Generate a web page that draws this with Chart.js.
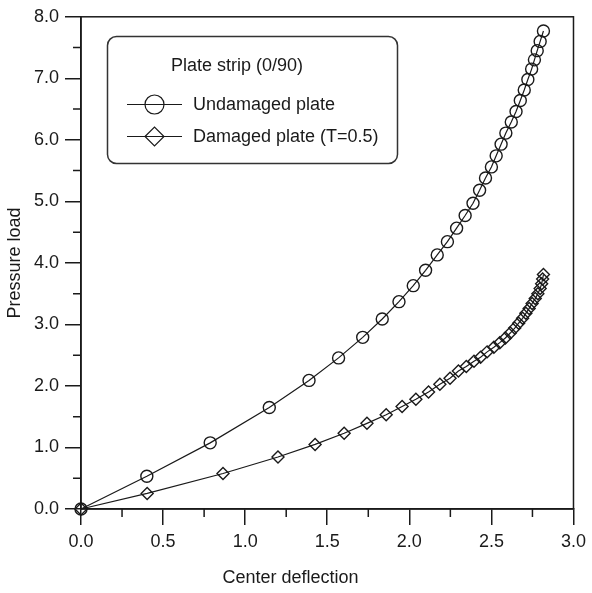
<!DOCTYPE html>
<html>
<head>
<meta charset="utf-8">
<script src="https://cdn.jsdelivr.net/npm/chart.js@4.4.1/dist/chart.umd.min.js"></script>
<style>
  html, body { margin: 0; padding: 0; background: #fff; }
  #wrap { width: 592px; height: 593px; position: relative; }
</style>
</head>
<body>
<div id="wrap"><canvas id="chart"></canvas></div>
<script>
// values
const undamagedX = [0, 0.401, 0.787, 1.147, 1.389, 1.569, 1.716, 1.835, 1.937, 2.024, 2.099, 2.170, 2.232, 2.288, 2.340, 2.388, 2.428, 2.464, 2.500, 2.529, 2.559, 2.588, 2.621, 2.650, 2.676, 2.700, 2.722, 2.745, 2.762, 2.779, 2.797, 2.817];
const undamagedY = [0, 0.532, 1.075, 1.65, 2.09, 2.456, 2.79, 3.088, 3.37, 3.63, 3.88, 4.13, 4.345, 4.565, 4.77, 4.97, 5.18, 5.38, 5.56, 5.74, 5.93, 6.11, 6.29, 6.46, 6.64, 6.81, 6.98, 7.15, 7.30, 7.45, 7.60, 7.77];

const damagedX = [0, 0.403, 0.865, 1.200, 1.426, 1.603, 1.742, 1.859, 1.956, 2.040, 2.117, 2.186, 2.248, 2.299, 2.347, 2.394, 2.434, 2.474, 2.515, 2.551, 2.585, 2.615, 2.642, 2.666, 2.690, 2.710, 2.730, 2.748, 2.767, 2.783, 2.797, 2.806, 2.812, 2.817];
const damagedY = [0, 0.253, 0.577, 0.845, 1.05, 1.231, 1.392, 1.532, 1.666, 1.785, 1.903, 2.027, 2.124, 2.242, 2.317, 2.403, 2.468, 2.554, 2.629, 2.704, 2.78, 2.86, 2.94, 3.02, 3.10, 3.18, 3.26, 3.34, 3.42, 3.50, 3.585, 3.66, 3.74, 3.81];

const xMajor = [0, 0.5, 1.0, 1.5, 2.0, 2.5, 3.0];
const xMinor = [0.25, 0.75, 1.25, 1.75, 2.25, 2.75];
const yMajor = [0, 1, 2, 3, 4, 5, 6, 7, 8];
const yMinor = [0.5, 1.5, 2.5, 3.5, 4.5, 5.5, 6.5, 7.5];

const seriesNames = ['Undamaged plate', 'Damaged plate (T=0.5)'];
const legendTitle = 'Plate strip (0/90)';

const ink = '#1a1a1a';
const FONT = '"Liberation Sans", Arial, sans-serif';

Chart.defaults.font.family = FONT;
Chart.defaults.font.size = 18;
Chart.defaults.color = ink;

const toPoints = (xs, ys) => xs.map((v, i) => ({ x: v, y: ys[i] }));

// frame on top/right plus the short minor ticks
const framePlugin = {
  id: 'frame',
  afterDraw(chart) {
    const { ctx, chartArea: a, scales: { x, y } } = chart;
    ctx.save();
    ctx.strokeStyle = ink;
    ctx.lineWidth = 1.5;
    ctx.strokeRect(a.left, a.top, a.right - a.left, a.bottom - a.top);
    ctx.beginPath();
    xMinor.forEach(v => {
      const px = x.getPixelForValue(v);
      ctx.moveTo(px, a.bottom);
      ctx.lineTo(px, a.bottom + 8);
    });
    yMinor.forEach(v => {
      const py = y.getPixelForValue(v);
      ctx.moveTo(a.left, py);
      ctx.lineTo(a.left - 8, py);
    });
    ctx.stroke();
    ctx.restore();
  }
};

// boxed legend in the upper left
const boxLegend = {
  id: 'boxLegend',
  afterDraw(chart) {
    const ctx = chart.ctx;
    ctx.save();
    ctx.strokeStyle = '#333';
    ctx.lineWidth = 1.5;
    ctx.beginPath();
    ctx.roundRect(107.5, 36.5, 290, 127, 9);
    ctx.stroke();

    ctx.fillStyle = ink;
    ctx.font = '18px ' + FONT;
    ctx.textBaseline = 'middle';
    ctx.fillText(legendTitle, 171, 66);

    const rows = [104.5, 136.5];
    chart.data.datasets.forEach((ds, i) => {
      const yy = rows[i];
      ctx.strokeStyle = ink;
      ctx.lineWidth = 1.2;
      ctx.beginPath();
      ctx.moveTo(127, yy);
      ctx.lineTo(182, yy);
      ctx.stroke();
      ctx.fillStyle = 'rgba(0,0,0,0)';
      Chart.helpers.drawPoint(ctx, {
        pointStyle: ds.pointStyle, radius: 9.5, rotation: 0, borderWidth: 1.4
      }, 154.5, yy);
      ctx.fillStyle = ink;
      ctx.fillText(ds.label, 193, yy + 0.5);
    });
    ctx.restore();
  }
};

const commonSeries = {
  showLine: true,
  borderColor: ink,
  borderWidth: 1.2,
  tension: 0,
  pointRadius: 6,
  pointBorderWidth: 1.4,
  pointBorderColor: ink,
  pointBackgroundColor: 'rgba(0,0,0,0)',
  clip: false
};

new Chart(document.getElementById('chart'), {
  type: 'scatter',
  data: {
    datasets: [
      Object.assign({ label: seriesNames[0], data: toPoints(undamagedX, undamagedY), pointStyle: 'circle' }, commonSeries),
      Object.assign({ label: seriesNames[1], data: toPoints(damagedX, damagedY), pointStyle: 'rectRot' }, commonSeries)
    ]
  },
  options: {
    responsive: true,
    maintainAspectRatio: false,
    animation: false,
    devicePixelRatio: 1,
    layout: { padding: { left: 0, right: 11, top: 13, bottom: 0 } },
    plugins: {
      legend: { display: false },
      tooltip: { enabled: false },
      title: {
        display: true,
        position: 'bottom',
        text: 'Center deflection',
        font: { size: 18, weight: 'normal' },
        color: ink,
        padding: { top: 0, bottom: 4 }
      }
    },
    scales: {
      x: {
        type: 'linear',
        min: 0,
        max: 3,
        afterBuildTicks: s => { s.ticks = xMajor.map(v => ({ value: v })); },
        afterFit: s => { s.height = 58.4; },
        ticks: { padding: 6, callback: v => Number(v).toFixed(1), maxRotation: 0 },
        grid: { drawOnChartArea: false, tickLength: 16, color: ink, lineWidth: 1.5 },
        border: { color: ink, width: 1.5 }
      },
      y: {
        type: 'linear',
        min: 0,
        max: 8,
        afterBuildTicks: s => { s.ticks = yMajor.map(v => ({ value: v })); },
        afterFit: s => { s.width = 81; },
        ticks: { padding: 6, callback: v => Number(v).toFixed(1) },
        grid: { drawOnChartArea: false, tickLength: 16, color: ink, lineWidth: 1.5 },
        border: { color: ink, width: 1.5 },
        title: { display: true, text: 'Pressure load', padding: { top: 4, bottom: 0 }, font: { size: 18 } }
      }
    }
  },
  plugins: [framePlugin, boxLegend]
});
</script>
</body>
</html>
